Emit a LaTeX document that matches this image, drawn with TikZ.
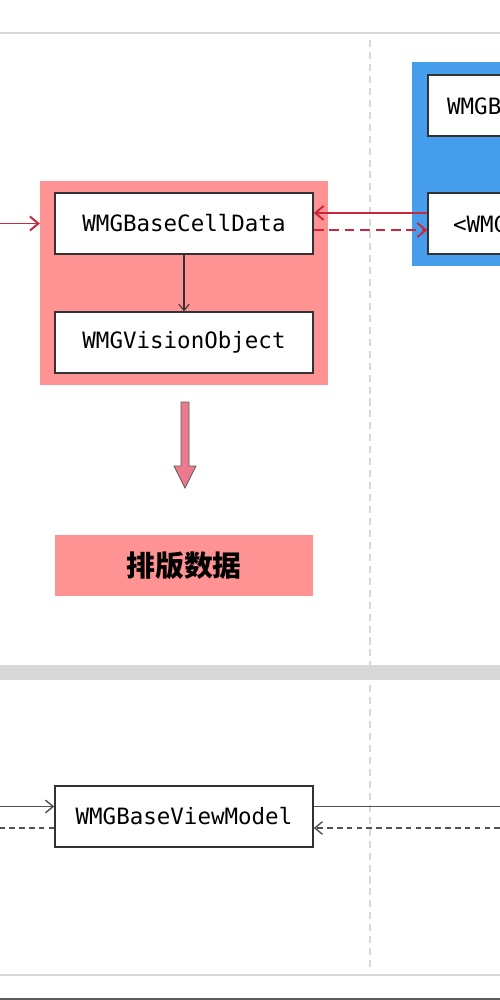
\documentclass[tikz,border=0pt]{standalone}
\usepackage{fontspec}
\setmonofont{DejaVu Sans Mono}
\newfontfamily\cjk{Noto Sans CJK SC}
\usetikzlibrary{arrows.meta}
\definecolor{pinkbg}{RGB}{255,146,146}
\definecolor{bluebg}{RGB}{70,157,235}
\definecolor{redline}{RGB}{200,40,62}
\definecolor{arrowfill}{RGB}{234,122,140}
\definecolor{lightgray}{RGB}{216,216,216}
\definecolor{darkline}{RGB}{50,50,50}
\tikzset{
  box/.style={draw=darkline, line width=2pt, fill=white, minimum width=129mm, minimum height=30.5mm, inner sep=0pt,
    font=\ttfamily\fontsize{32}{38}\selectfont},
  grp/.style={minimum width=144mm, minimum height=102mm, inner sep=0pt, draw=none},
  txt/.style={inner sep=0pt, font=\ttfamily\fontsize{32}{38}\selectfont},
  redarr/.style={draw=redline, line width=2.8pt, -{Straight Barb[length=12pt,width=20pt,line width=2.8pt]}},
  reddash/.style={redarr, dash pattern=on 14pt off 8pt},
  grayarr/.style={draw=darkline!85, line width=2pt, -{Straight Barb[length=11pt,width=18pt,line width=2pt]}},
  grayline/.style={draw=darkline!85, line width=2pt},
  graydash/.style={draw=darkline!85, line width=2pt, dash pattern=on 8pt off 6pt},
}
\begin{document}
\begin{tikzpicture}[x=0.5mm, y=-0.5mm]
\useasboundingbox (0,0) rectangle (500,1000);
\clip (0,0) rectangle (500,1000);
\fill[white] (0,0) rectangle (500,1000);
% frame lines
\draw[lightgray, line width=2pt] (0,33) -- (500,33);
\draw[lightgray, line width=1.5pt, dash pattern=on 10pt off 7pt] (370,40) -- (370,968);
\fill[lightgray] (0,665) rectangle (500,680);
\draw[lightgray, line width=2.5pt] (0,975) -- (500,975);
\draw[darkline!80, line width=3pt] (0,999) -- (500,999);
% groups
\node[grp, fill=pinkbg] (pg) at (184,283) {};
\node[grp, fill=bluebg] (bg) at (556,164) {};
% boxes
\node[box] (cell) at (184,223.5) {WMGBaseCellData};
\node[box] (vis) at (184,342.5) {WMGVisionObject};
\node[box] (bv) at (557,105.5) {};
\node[txt, anchor=base west] (bvt) at (447,114) {WMGB};
\node[box] (wp) at (557,223.5) {};
\node[txt, anchor=base west] (wpt) at (453,232) {<WMG};
\node[fill=pinkbg, minimum width=129mm, minimum height=30.5mm, inner sep=0pt,
      font=\cjk\bfseries\fontsize{41}{48}\selectfont] (pb) at (184,565.5) {排版数据};
\node[box] (vm) at (184,816.5) {WMGBaseViewModel};
% connectors top
\coordinate (inL) at (0,223.5);
\draw[redarr] (inL) -- (inL -| pg.west);
\draw[redarr] ([yshift=5.25mm]wp.west) -- ([yshift=5.25mm]cell.east);
\draw[reddash] ([yshift=-3.25mm]cell.east) -- ([yshift=-3.25mm]wp.west);
\draw[darkline, line width=1.5pt, -{Straight Barb[length=9pt,width=15pt,line width=1.5pt]}] (cell.south) -- (vis.north);
% block arrow
\draw[fill=arrowfill, draw=darkline!80, line width=1.2pt]
  (181,402) -- (189,402) -- (189,466) -- (196,466) -- (185,488) -- (174,466) -- (181,466) -- cycle;
% connectors bottom
\coordinate (bl1) at (0,806.5);
\coordinate (bl2) at (0,828);
\coordinate (br1) at (500,806.5);
\coordinate (br2) at (500,828);
\draw[grayarr] (bl1) -- (bl1 -| vm.west);
\draw[graydash] (bl2 -| vm.west) -- (bl2);
\draw[grayline] (br1 -| vm.east) -- (br1);
\draw[graydash, -{Straight Barb[length=11pt,width=18pt,line width=2pt]}] (br2) -- (br2 -| vm.east);
\end{tikzpicture}
\end{document}
